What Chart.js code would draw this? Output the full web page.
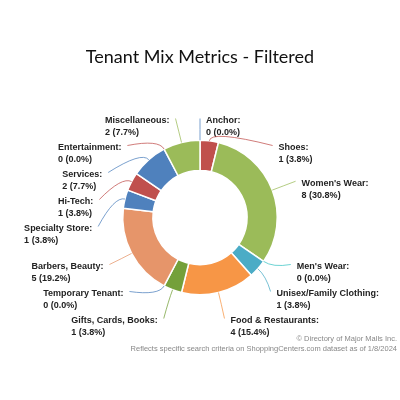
<!doctype html>
<html lang="en">
<head>
<meta charset="utf-8">
<title>Tenant Mix Metrics - Filtered</title>
<style>
  html, body { margin: 0; padding: 0; background: #fff; }
  #wrap { width: 400px; height: 400px; }
</style>
</head>
<body>
<div id="wrap"><canvas id="myChart"></canvas></div>
<script src="https://cdn.jsdelivr.net/npm/chart.js@4/dist/chart.umd.min.js"></script>
<script>
var chartTitle = "Tenant Mix Metrics - Filtered"
var credits = ["\u00a9 Directory of Major Malls Inc.", "Reflects specific search criteria on ShoppingCenters.com dataset as of 1/8/2024"]

var categories = ["Anchor", "Shoes", "Women's Wear", "Men's Wear", "Unisex/Family Clothing", "Food & Restaurants",
    "Gifts, Cards, Books", "Temporary Tenant", "Barbers, Beauty", "Specialty Store", "Hi-Tech", "Services",
    "Entertainment", "Miscellaneous"]
var counts = [0, 1, 8, 0, 1, 4, 1, 0, 5, 1, 1, 2, 0, 2]

var sliceColors = ['#4f81bd', '#c0504d', '#9bbb59', '#3cc4c4', '#4bacc6', '#f79646', '#74a03a',
    '#4f81bd', '#e6956a', '#4f81bd', '#c0504d', '#4f81bd', '#c0504d', '#9bbb59']

var total = counts.reduce(function (a, b) { return a + b }, 0)

// labels outside the ring, with curved leader lines
var outsideLabels = {
    id: 'outsideLabels',
    afterDatasetsDraw: function (chart) {
        var ctx = chart.ctx
        var meta = chart.getDatasetMeta(0)
        var gap = 27
        var items = []
        meta.data.forEach(function (arc, i) {
            var p = arc.getProps(['x', 'y', 'startAngle', 'endAngle', 'outerRadius'], true)
            var mid = (p.startAngle + p.endAngle) / 2
            var theta = mid + Math.PI / 2
            while (theta < 0) theta += Math.PI * 2
            while (theta >= Math.PI * 2) theta -= Math.PI * 2
            var r = p.outerRadius + 25
            items.push({
                i: i, mid: mid, cx: p.x, cy: p.y, R: p.outerRadius, r: r,
                right: theta < Math.PI - 1e-6,
                x0: p.x + r * Math.cos(mid),
                y0: p.y + r * Math.sin(mid)
            })
        })
        var cy = items[0].cy
        var minY = cy - 99, maxY = cy + 101

        function spread(list) {
            list.sort(function (a, b) { return a.y0 - b.y0 })
            var clusters = list.map(function (it) { return { items: [it] } })
            function place(c) {
                var s = 0
                c.items.forEach(function (it, k) { s += it.y0 - k * gap })
                var top = s / c.items.length
                top = Math.max(minY, Math.min(maxY - (c.items.length - 1) * gap, top))
                c.top = top
            }
            clusters.forEach(place)
            var merged = true
            while (merged) {
                merged = false
                for (var k = 1; k < clusters.length; k++) {
                    var a = clusters[k - 1], b = clusters[k]
                    if (a.top + a.items.length * gap > b.top) {
                        a.items = a.items.concat(b.items)
                        clusters.splice(k, 1)
                        place(a)
                        merged = true
                        break
                    }
                }
            }
            clusters.forEach(function (c) {
                c.items.forEach(function (it, k) { it.y = c.top + k * gap })
            })
        }
        spread(items.filter(function (it) { return it.right }))
        spread(items.filter(function (it) { return !it.right }))

        ctx.save()
        ctx.font = 'bold 9px "Liberation Sans", Arial, sans-serif'
        ctx.textBaseline = 'middle'
        ctx.textAlign = 'left'
        items.forEach(function (it) {
            var dy = it.y - it.cy
            if (Math.abs(it.y - it.y0) < 6) {
                it.x = it.x0
            } else {
                var dx = Math.sqrt(Math.max(0, it.r * it.r - dy * dy))
                it.x = it.cx + (it.right ? dx : -dx)
            }
            var sx = it.cx + it.R * Math.cos(it.mid)
            var sy = it.cy + it.R * Math.sin(it.mid)
            var kx = it.cx + (it.R + 11) * Math.cos(it.mid)
            var ky = it.cy + (it.R + 11) * Math.sin(it.mid)
            ctx.strokeStyle = sliceColors[it.i]
            ctx.globalAlpha = 0.75
            ctx.lineWidth = 1
            ctx.beginPath()
            ctx.moveTo(sx, sy)
            ctx.quadraticCurveTo(kx, ky, it.x, it.y)
            ctx.stroke()
            ctx.globalAlpha = 1

            var line1 = categories[it.i] + ':'
            var pct = total ? (counts[it.i] / total * 100).toFixed(1) : '0.0'
            var line2 = counts[it.i] + ' (' + pct + '%)'
            var tx = it.right ? it.x + 6 : it.x - 6 - ctx.measureText(line1).width
            ctx.fillStyle = '#222'
            ctx.fillText(line1, tx, it.y + 2)
            ctx.fillText(line2, tx, it.y + 14)
        })
        ctx.restore()
    },
    afterDraw: function (chart) {
        var ctx = chart.ctx
        ctx.save()
        ctx.fillStyle = '#111'
        ctx.textAlign = 'center'
        ctx.textBaseline = 'middle'
        ctx.font = '18px Lato, "Open Sans", sans-serif'
        ctx.fillText(chartTitle, 200, 57)
        ctx.fillStyle = '#888'
        ctx.textAlign = 'right'
        ctx.font = '7.5px "Liberation Sans", Arial, sans-serif'
        ctx.fillText(credits[0], 397, 339)
        ctx.fillText(credits[1], 397, 349)
        ctx.restore()
    }
}

var myChart = document.getElementById('myChart').getContext('2d')

var chart = new Chart(myChart, {
    type: 'doughnut',
    data: {
        labels: categories,
        datasets: [{
            data: counts,
            backgroundColor: sliceColors,
            borderColor: '#fff',
            borderWidth: 1.5
        }]
    },
    options: {
        responsive: true,
        maintainAspectRatio: false,
        animation: false,
        cutout: '61%',
        events: [],
        layout: { padding: { top: 139, bottom: 104, left: 122, right: 122 } },
        plugins: {
            legend: { display: false },
            tooltip: { enabled: false },
            title: { display: false }
        }
    },
    plugins: [outsideLabels]
})
</script>
</body>
</html>
